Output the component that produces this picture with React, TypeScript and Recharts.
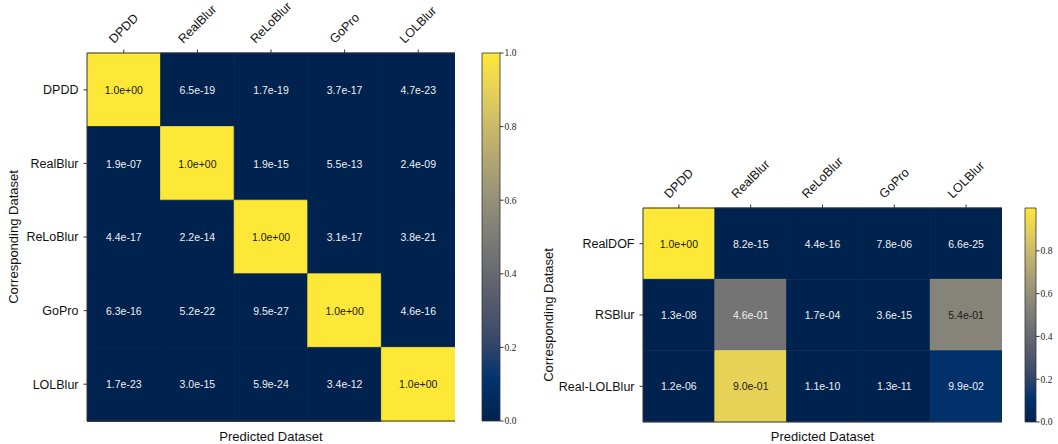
import React from "react";
import { BarChart, Bar, Cell, XAxis, YAxis, LabelList } from "recharts";

// left matrix
const leftRows = ["DPDD", "RealBlur", "ReLoBlur", "GoPro", "LOLBlur"];
const leftCols = ["DPDD", "RealBlur", "ReLoBlur", "GoPro", "LOLBlur"];
const leftValues = [
  [1.0, 6.5e-19, 1.7e-19, 3.7e-17, 4.7e-23],
  [1.9e-7, 1.0, 1.9e-15, 5.5e-13, 2.4e-9],
  [4.4e-17, 2.2e-14, 1.0, 3.1e-17, 3.8e-21],
  [6.3e-16, 5.2e-22, 9.5e-27, 1.0, 4.6e-16],
  [1.7e-23, 3.0e-15, 5.9e-24, 3.4e-12, 1.0],
];

// right matrix
const rightRows = ["RealDOF", "RSBlur", "Real-LOLBlur"];
const rightCols = ["DPDD", "RealBlur", "ReLoBlur", "GoPro", "LOLBlur"];
const rightValues = [
  [1.0, 8.2e-15, 4.4e-16, 7.8e-6, 6.6e-25],
  [1.3e-8, 4.6e-1, 1.7e-4, 3.6e-15, 5.4e-1],
  [1.2e-6, 9.0e-1, 1.1e-10, 1.3e-11, 9.9e-2],
];

const leftBarTicks = [0, 0.2, 0.4, 0.6, 0.8, 1.0];
const rightBarTicks = [0, 0.2, 0.4, 0.6, 0.8];

// cividis, sampled evenly
const CIVIDIS = [
  "#00224E", "#00336F", "#39486B", "#575C6D", "#707173",
  "#8A8779", "#A69D75", "#C4B56C", "#E4CF5B", "#FDE838",
];

const SANS = "'Liberation Sans', Arial, sans-serif";
const SERIF = "'Liberation Serif', serif";
const SPINE = "#333";

function hex(c: string) {
  return [1, 3, 5].map((i) => parseInt(c.slice(i, i + 2), 16));
}

function cividis(v: number) {
  const t = Math.max(0, Math.min(1, v)) * (CIVIDIS.length - 1);
  const i = Math.min(Math.floor(t), CIVIDIS.length - 2);
  const f = t - i;
  const a = hex(CIVIDIS[i]);
  const b = hex(CIVIDIS[i + 1]);
  const m = a.map((x, k) => Math.round(x + (b[k] - x) * f));
  return `rgb(${m[0]},${m[1]},${m[2]})`;
}

function fmt(v: number) {
  return v.toExponential(1).replace(/e([+-])(\d)$/, "e$10$2");
}

let ctx: CanvasRenderingContext2D | null = null;
function textWidth(s: string, size: number) {
  if (!ctx) ctx = document.createElement("canvas").getContext("2d");
  if (!ctx) return s.length * size * 0.6;
  ctx.font = `${size}px "Liberation Sans"`;
  return ctx.measureText(s).width;
}

function TopTick(props: any) {
  const { x, y, payload, names } = props;
  const label = names[Math.floor(payload.value)];
  const fs = 12.5;
  const L = textWidth(label, fs);
  const half = (L + fs) / (2 * Math.SQRT2);
  const cy = y - half;
  return (
    <text
      x={x}
      y={cy}
      textAnchor="middle"
      dominantBaseline="central"
      transform={`rotate(-45 ${x} ${cy})`}
      fontSize={fs}
      fontFamily={SANS}
      fill="#111"
    >
      {label}
    </text>
  );
}

function CellLabel(props: any) {
  const box = props.viewBox ?? props;
  const { x, y, width, height } = box;
  const v = Number(props.value);
  return (
    <text
      x={x + width / 2}
      y={y + height / 2}
      textAnchor="middle"
      dominantBaseline="central"
      fontSize={10.5}
      fontFamily={SANS}
      fill={v > 0.5 ? "#1a1a1a" : "#f0f0f0"}
    >
      {fmt(v)}
    </text>
  );
}

interface HeatProps {
  rows: string[];
  cols: string[];
  values: number[][];
  width: number;
  height: number;
  yWidth: number;
  topH: number;
  bottomH: number;
  right: number;
  labelX: number;
}

function Heatmap({ rows, cols, values, width, height, yWidth, topH, bottomH, right, labelX }: HeatProps) {
  const data = rows.map((r, i) => {
    const d: Record<string, string | number> = { row: r };
    cols.forEach((_, j) => {
      d[`c${j}`] = 1;
      d[`p${j}`] = values[i][j];
    });
    return d;
  });
  const ticks = cols.map((_, j) => j + 0.5);

  return (
    <BarChart
      width={width}
      height={height}
      data={data}
      layout="vertical"
      barCategoryGap={0}
      barGap={0}
      margin={{ top: 0, left: 0, right, bottom: 0 }}
    >
      <XAxis
        xAxisId="top"
        orientation="top"
        type="number"
        domain={[0, cols.length]}
        ticks={ticks}
        interval={0}
        height={topH}
        tickSize={3.5}
        tickMargin={4}
        tick={<TopTick names={cols} />}
        axisLine={{ stroke: SPINE }}
        tickLine={{ stroke: SPINE }}
        allowDataOverflow
      />
      <XAxis
        xAxisId="bottom"
        orientation="bottom"
        type="number"
        domain={[0, cols.length]}
        ticks={ticks}
        interval={0}
        height={bottomH}
        tickSize={3.5}
        tick={false}
        axisLine={{ stroke: SPINE }}
        tickLine={{ stroke: SPINE }}
        allowDataOverflow
        label={{
          value: "Predicted Dataset",
          position: "insideBottom",
          offset: 3,
          fontSize: 13,
          fontFamily: SANS,
          fill: "#111",
        }}
      />
      <YAxis
        yAxisId="rows"
        type="category"
        dataKey="row"
        width={yWidth}
        interval={0}
        tickSize={3.5}
        tickMargin={5}
        tick={{ fontSize: 12.5, fontFamily: SANS, fill: "#111" }}
        axisLine={{ stroke: SPINE }}
        tickLine={{ stroke: SPINE }}
        label={(p: any) => {
          const vb = p.viewBox;
          const cy = vb.y + vb.height / 2;
          return (
            <text
              x={labelX}
              y={cy}
              textAnchor="middle"
              dominantBaseline="central"
              transform={`rotate(-90 ${labelX} ${cy})`}
              fontSize={13}
              fontFamily={SANS}
              fill="#111"
            >
              Corresponding Dataset
            </text>
          );
        }}
      />
      <YAxis
        yAxisId="right"
        orientation="right"
        type="category"
        dataKey="row"
        width={0}
        tick={false}
        tickLine={false}
        axisLine={{ stroke: SPINE }}
      />
      {cols.map((_, j) => (
        <Bar
          key={j}
          xAxisId="top"
          yAxisId="rows"
          dataKey={`c${j}`}
          stackId="m"
          isAnimationActive={false}
        >
          {rows.map((_, i) => {
            const c = cividis(values[i][j]);
            // stroke with own colour to hide antialiasing seams between cells
            return <Cell key={i} fill={c} stroke={c} strokeWidth={0.8} />;
          })}
          <LabelList dataKey={`p${j}`} content={CellLabel} />
        </Bar>
      ))}
    </BarChart>
  );
}

interface BarProps {
  id: string;
  ticks: number[];
  width: number;
  height: number;
  top: number;
  bottom: number;
  left: number;
  axisW: number;
}

function ColorBar({ id, ticks, width, height, top, bottom, left, axisW }: BarProps) {
  const data = [{ k: "cb", v: 1 }];
  return (
    <BarChart
      width={width}
      height={height}
      data={data}
      barCategoryGap={0}
      margin={{ top, bottom, left, right: 0 }}
    >
      <defs>
        <linearGradient id={id} x1="0" y1="1" x2="0" y2="0">
          {CIVIDIS.map((c, i) => (
            <stop key={i} offset={i / (CIVIDIS.length - 1)} stopColor={c} />
          ))}
        </linearGradient>
      </defs>
      <XAxis dataKey="k" hide />
      <YAxis
        orientation="right"
        type="number"
        domain={[0, 1]}
        ticks={ticks}
        interval={0}
        width={axisW}
        tickSize={3.5}
        tickMargin={1}
        axisLine={false}
        tickLine={{ stroke: SPINE }}
        tickFormatter={(v: number) => v.toFixed(1)}
        tick={{ fontSize: 9.5, fontFamily: SERIF, fill: "#222", textAnchor: "start" }}
      />
      <Bar dataKey="v" fill={`url(#${id})`} stroke={SPINE} strokeWidth={0.8} isAnimationActive={false} />
    </BarChart>
  );
}

export default function App() {
  return (
    <div style={{ position: "absolute", left: 0, top: 0, width: 1058, height: 444, background: "#fff" }}>
      <div style={{ position: "absolute", left: 0, top: 0 }}>
        <Heatmap
          rows={leftRows}
          cols={leftCols}
          values={leftValues}
          width={470}
          height={444}
          yWidth={87}
          topH={53}
          bottomH={23}
          right={15}
          labelX={13}
        />
      </div>
      <div style={{ position: "absolute", left: 470, top: 0 }}>
        <ColorBar id="cbL" ticks={leftBarTicks} width={60} height={444} top={53} bottom={23} left={12} axisW={30} />
      </div>
      <div style={{ position: "absolute", left: 530, top: 0 }}>
        <Heatmap
          rows={rightRows}
          cols={rightCols}
          values={rightValues}
          width={490}
          height={444}
          yWidth={113}
          topH={208}
          bottomH={22}
          right={18}
          labelX={18}
        />
      </div>
      <div style={{ position: "absolute", left: 1015, top: 0 }}>
        <ColorBar id="cbR" ticks={rightBarTicks} width={43} height={444} top={208} bottom={22} left={10} axisW={22} />
      </div>
    </div>
  );
}
